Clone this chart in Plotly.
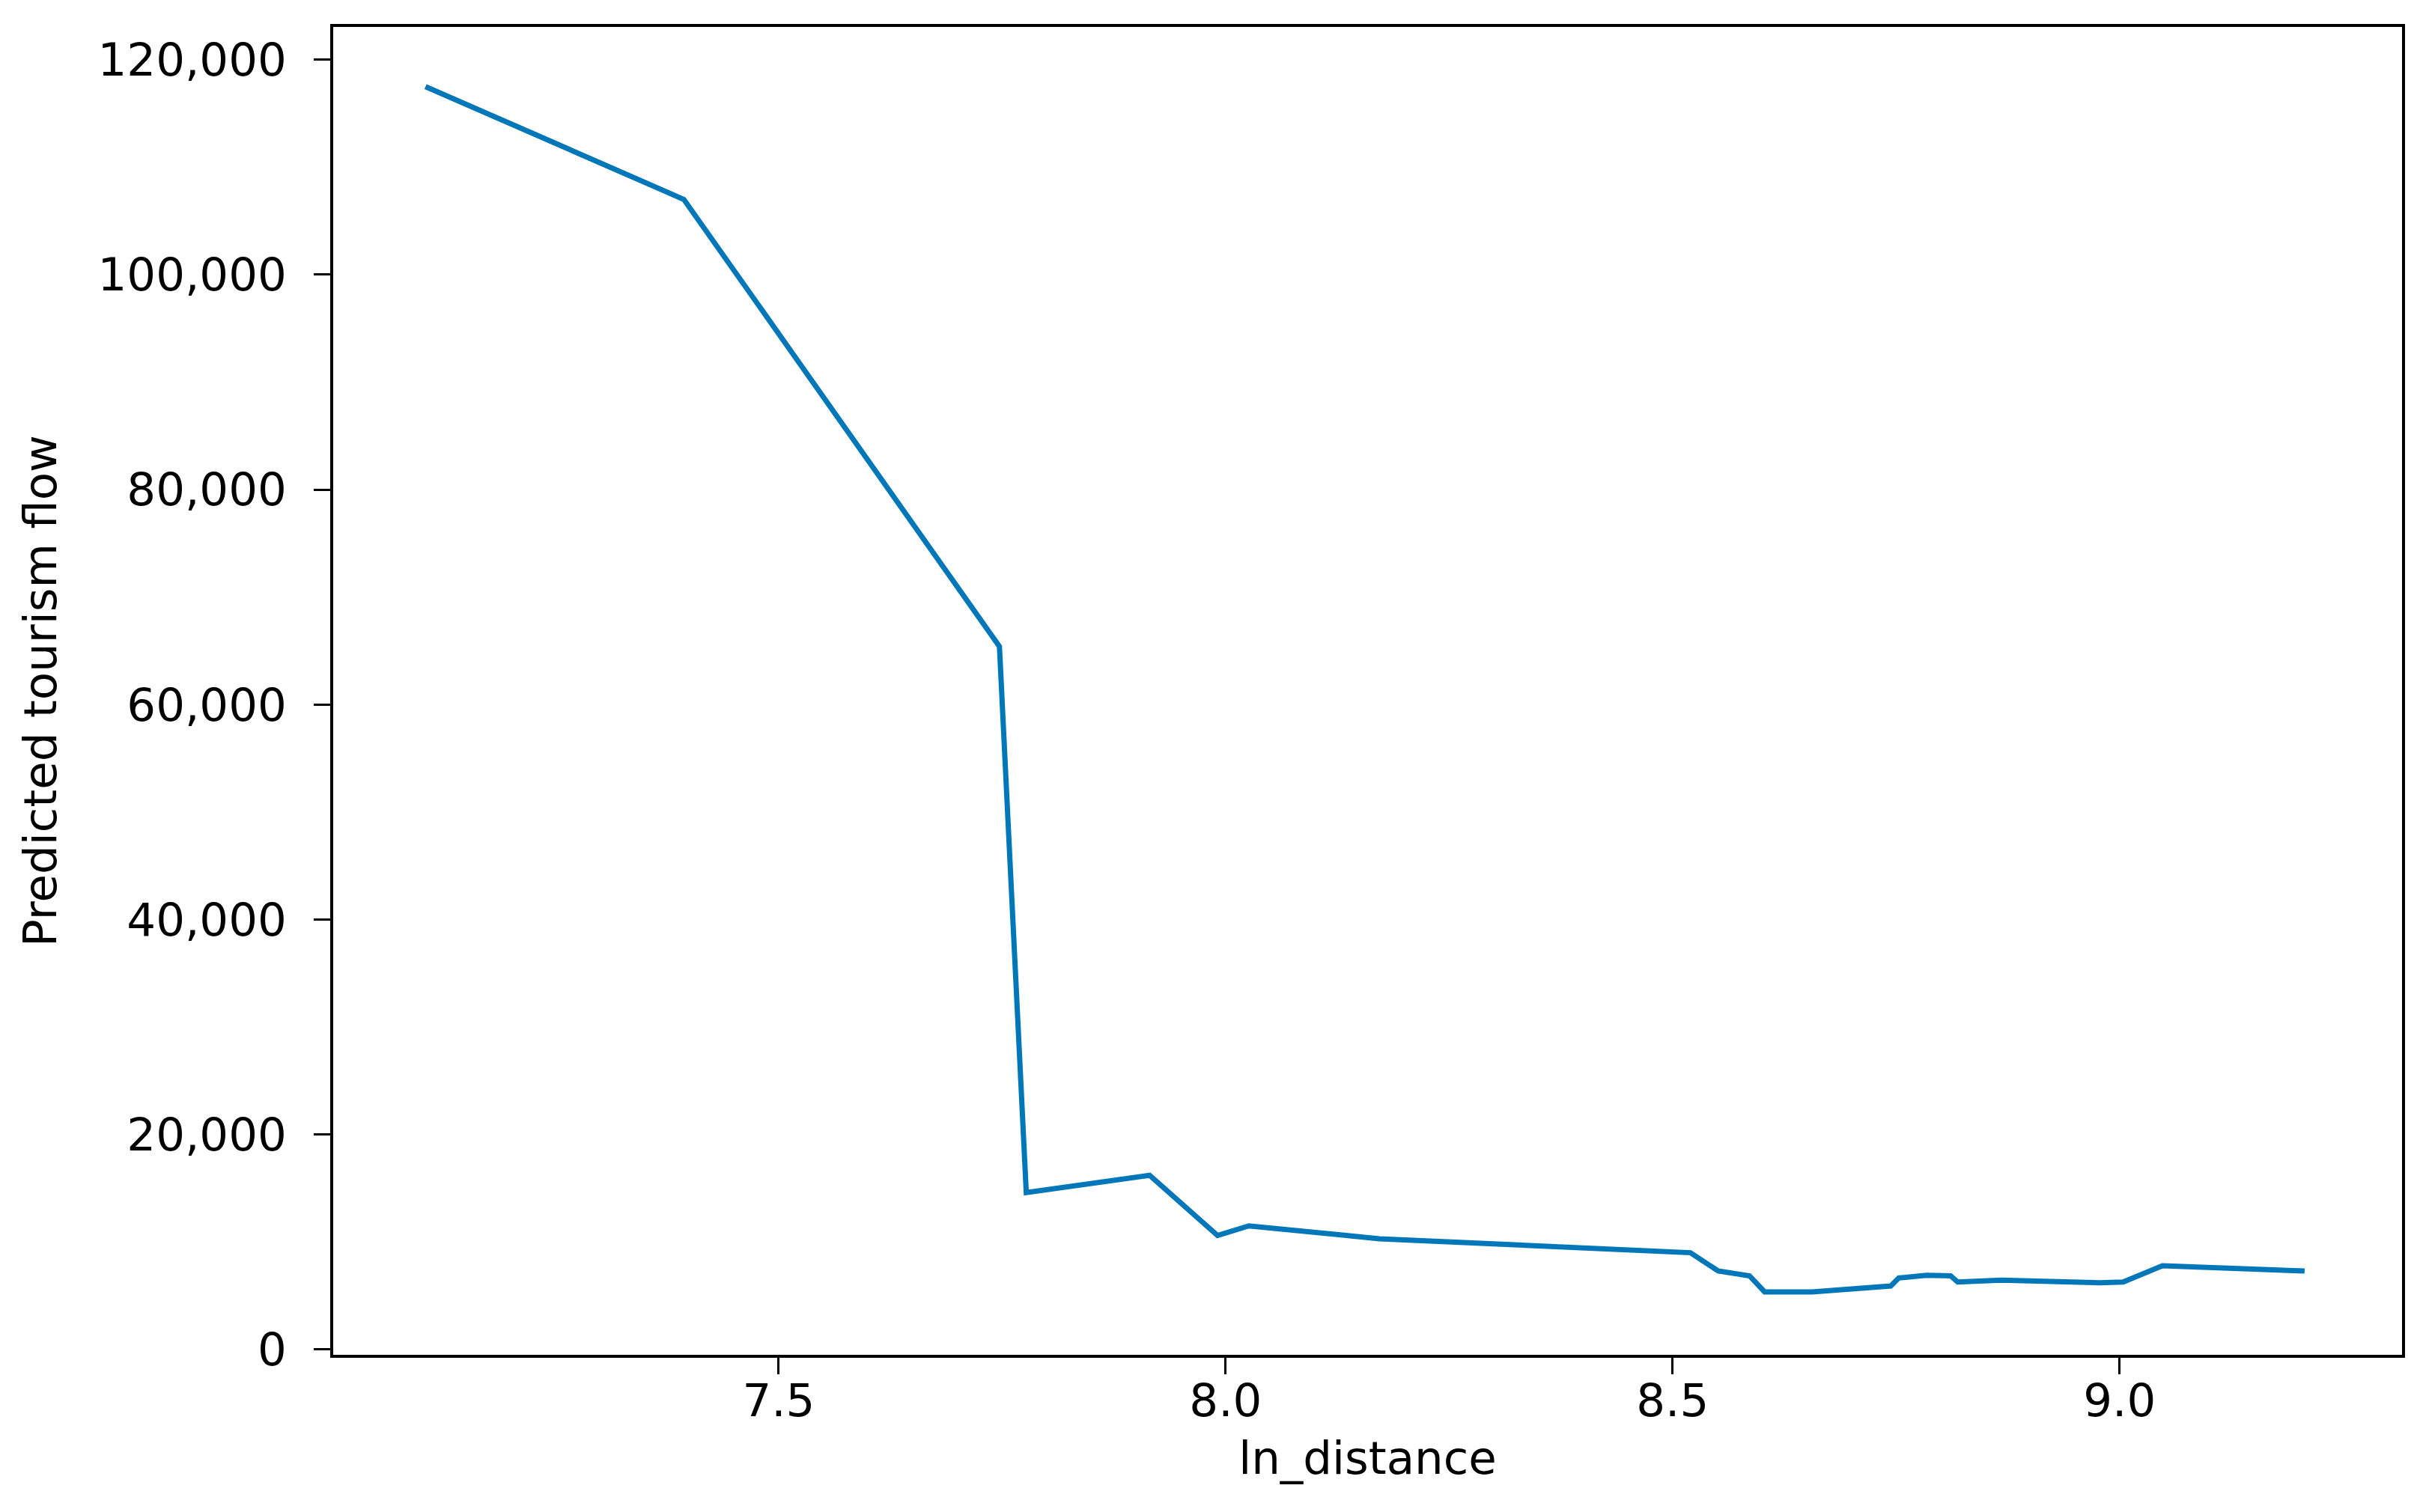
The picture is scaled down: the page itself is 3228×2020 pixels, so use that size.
import plotly.graph_objects as go

# values
ln_distance = [7.105, 7.394, 7.747, 7.777, 7.915, 7.991, 8.026, 8.172, 8.520, 8.551,
               8.586, 8.603, 8.656, 8.744, 8.753, 8.784, 8.811, 8.819, 8.868, 8.978,
               9.004, 9.048, 9.207]
predicted_flow = [117500, 107000, 65400, 14600, 16200, 10600, 11500, 10300, 9000, 7300,
                  6850, 5350, 5350, 5900, 6650, 6900, 6850, 6270, 6450, 6200,
                  6270, 7780, 7300]

x_ticks = [7.5, 8.0, 8.5, 9.0]
y_ticks = [0, 20000, 40000, 60000, 80000, 100000, 120000]

FONT = "DejaVu Sans"

fig = go.Figure()
fig.add_trace(go.Scatter(
    x=ln_distance,
    y=predicted_flow,
    mode="lines",
    line=dict(color="#0077b8", width=7),
    showlegend=False,
))

axis_common = dict(
    showline=True, linecolor="black", linewidth=4, mirror=True,
    ticks="outside", ticklen=22, tickwidth=3, tickcolor="black",
    showgrid=False, zeroline=False,
    tickfont=dict(family=FONT, size=61, color="black"),
)

fig.update_layout(
    width=3228, height=2020,
    paper_bgcolor="white", plot_bgcolor="white",
    margin=dict(l=437, r=28, t=28, b=218),
    font=dict(family=FONT, color="black"),
    xaxis=dict(
        range=[7.0017, 9.316],
        tickvals=x_ticks,
        ticktext=[f"{v:.1f}" for v in x_ticks],
        title=dict(text="ln_distance", font=dict(family=FONT, size=61), standoff=22),
        ticklabelstandoff=-17,
        **axis_common,
    ),
    yaxis=dict(
        range=[-500, 123050],
        tickvals=y_ticks,
        tickformat=",d",
        title=dict(text="Predicted tourism flow", font=dict(family=FONT, size=61), standoff=36),
        ticklabelstandoff=24,
        **axis_common,
    ),
)

fig.write_html("out.html")
